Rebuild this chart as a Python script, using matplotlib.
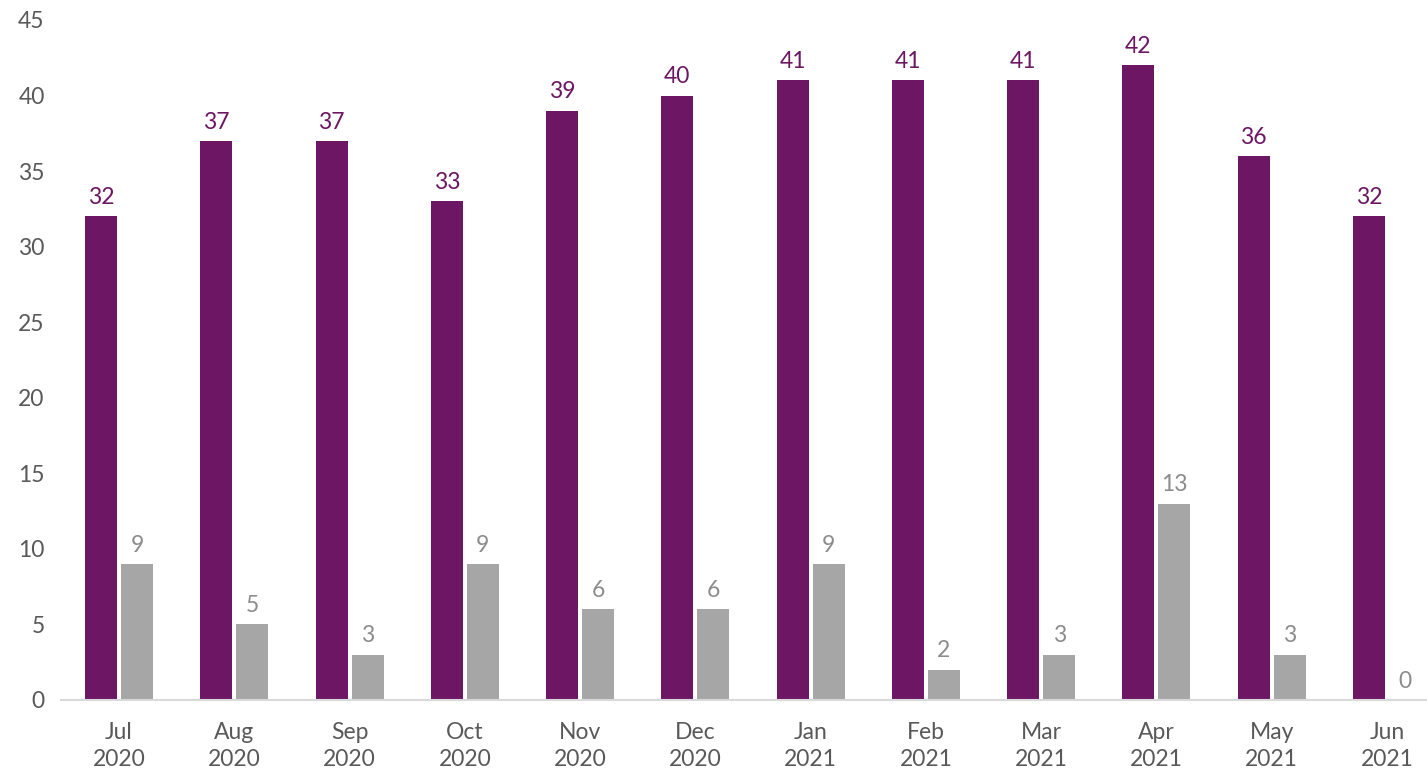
import matplotlib.pyplot as plt
import numpy as np

months = ["Jul\n2020", "Aug\n2020", "Sep\n2020", "Oct\n2020", "Nov\n2020", "Dec\n2020",
          "Jan\n2021", "Feb\n2021", "Mar\n2021", "Apr\n2021", "May\n2021", "Jun\n2021"]
series_a = [32, 37, 37, 33, 39, 40, 41, 41, 41, 42, 36, 32]
series_b = [9, 5, 3, 9, 6, 6, 9, 2, 3, 13, 3, 0]

PURPLE = "#6C1664"
GRAY = "#A6A6A6"
TEXT = "#595959"

plt.rcParams['font.family'] = ['Lato', 'DejaVu Sans']

fig = plt.figure(figsize=(14.27, 7.75), dpi=100)
# axes runs a bit past the right edge, like the source
ax = fig.add_axes([61.4 / 1427, 1 - 700 / 775, 1383.2 / 1427, 680 / 775])

x = np.arange(len(months))
w = 0.278
off = 0.156
bars_a = ax.bar(x - off, series_a, width=w, color=PURPLE)
bars_b = ax.bar(x + off, series_b, width=w, color=GRAY)

for b, v in zip(bars_a, series_a):
    ax.annotate(str(v), (b.get_x() + b.get_width() / 2, v), xytext=(0, 6),
                textcoords="offset points", ha="center", va="bottom",
                fontsize=16.5, color=PURPLE)
for b, v in zip(bars_b, series_b):
    ax.annotate(str(v), (b.get_x() + b.get_width() / 2, v), xytext=(0, 6),
                textcoords="offset points", ha="center", va="bottom",
                fontsize=16.5, color="#8C8C8C")

ax.set_xlim(-0.5, len(months) - 0.5)
ax.set_ylim(0, 45)
ax.set_yticks(range(0, 46, 5))
ax.set_xticks(x)
ax.set_xticklabels(months, linespacing=1.35)
ax.tick_params(axis="both", length=0, labelsize=16.5, labelcolor=TEXT)
ax.tick_params(axis="y", pad=12)
ax.tick_params(axis="x", pad=16)

for s in ["top", "right", "left"]:
    ax.spines[s].set_visible(False)
ax.spines["bottom"].set_color("#D9D9D9")
ax.spines["bottom"].set_linewidth(1.5)

fig.savefig("out.png", dpi=100)
